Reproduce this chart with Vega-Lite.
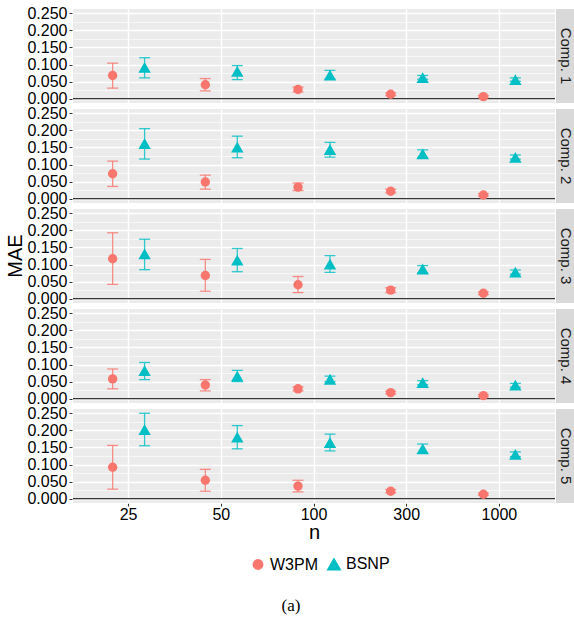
{
  "$schema": "https://vega.github.io/schema/vega-lite/v6.json",
  "padding": {"left": 6, "top": 5, "right": 0, "bottom": 5},
  "spacing": 0,
  "data": {"values": [
    {"comp": "Comp. 1", "method": "W3PM", "n": 25, "mae": 0.068, "lo": 0.031, "hi": 0.104},
    {"comp": "Comp. 1", "method": "W3PM", "n": 50, "mae": 0.041, "lo": 0.023, "hi": 0.059},
    {"comp": "Comp. 1", "method": "W3PM", "n": 100, "mae": 0.027, "lo": 0.020, "hi": 0.034},
    {"comp": "Comp. 1", "method": "W3PM", "n": 300, "mae": 0.013, "lo": 0.009, "hi": 0.017},
    {"comp": "Comp. 1", "method": "W3PM", "n": 1000, "mae": 0.006, "lo": 0.003, "hi": 0.009},
    {"comp": "Comp. 1", "method": "BSNP", "n": 25, "mae": 0.092, "lo": 0.061, "hi": 0.120},
    {"comp": "Comp. 1", "method": "BSNP", "n": 50, "mae": 0.080, "lo": 0.056, "hi": 0.097},
    {"comp": "Comp. 1", "method": "BSNP", "n": 100, "mae": 0.069, "lo": 0.058, "hi": 0.083},
    {"comp": "Comp. 1", "method": "BSNP", "n": 300, "mae": 0.062, "lo": 0.057, "hi": 0.068},
    {"comp": "Comp. 1", "method": "BSNP", "n": 1000, "mae": 0.056, "lo": 0.051, "hi": 0.061},
    {"comp": "Comp. 2", "method": "W3PM", "n": 25, "mae": 0.073, "lo": 0.036, "hi": 0.110},
    {"comp": "Comp. 2", "method": "W3PM", "n": 50, "mae": 0.049, "lo": 0.028, "hi": 0.069},
    {"comp": "Comp. 2", "method": "W3PM", "n": 100, "mae": 0.034, "lo": 0.024, "hi": 0.046},
    {"comp": "Comp. 2", "method": "W3PM", "n": 300, "mae": 0.022, "lo": 0.017, "hi": 0.028},
    {"comp": "Comp. 2", "method": "W3PM", "n": 1000, "mae": 0.011, "lo": 0.008, "hi": 0.015},
    {"comp": "Comp. 2", "method": "BSNP", "n": 25, "mae": 0.161, "lo": 0.116, "hi": 0.205},
    {"comp": "Comp. 2", "method": "BSNP", "n": 50, "mae": 0.151, "lo": 0.120, "hi": 0.183},
    {"comp": "Comp. 2", "method": "BSNP", "n": 100, "mae": 0.144, "lo": 0.122, "hi": 0.165},
    {"comp": "Comp. 2", "method": "BSNP", "n": 300, "mae": 0.131, "lo": 0.121, "hi": 0.143},
    {"comp": "Comp. 2", "method": "BSNP", "n": 1000, "mae": 0.121, "lo": 0.116, "hi": 0.128},
    {"comp": "Comp. 3", "method": "W3PM", "n": 25, "mae": 0.117, "lo": 0.042, "hi": 0.193},
    {"comp": "Comp. 3", "method": "W3PM", "n": 50, "mae": 0.068, "lo": 0.022, "hi": 0.115},
    {"comp": "Comp. 3", "method": "W3PM", "n": 100, "mae": 0.041, "lo": 0.018, "hi": 0.065},
    {"comp": "Comp. 3", "method": "W3PM", "n": 300, "mae": 0.025, "lo": 0.018, "hi": 0.032},
    {"comp": "Comp. 3", "method": "W3PM", "n": 1000, "mae": 0.016, "lo": 0.012, "hi": 0.020},
    {"comp": "Comp. 3", "method": "BSNP", "n": 25, "mae": 0.131, "lo": 0.085, "hi": 0.174},
    {"comp": "Comp. 3", "method": "BSNP", "n": 50, "mae": 0.113, "lo": 0.079, "hi": 0.147},
    {"comp": "Comp. 3", "method": "BSNP", "n": 100, "mae": 0.101, "lo": 0.077, "hi": 0.126},
    {"comp": "Comp. 3", "method": "BSNP", "n": 300, "mae": 0.087, "lo": 0.076, "hi": 0.097},
    {"comp": "Comp. 3", "method": "BSNP", "n": 1000, "mae": 0.078, "lo": 0.072, "hi": 0.084},
    {"comp": "Comp. 4", "method": "W3PM", "n": 25, "mae": 0.058, "lo": 0.029, "hi": 0.087},
    {"comp": "Comp. 4", "method": "W3PM", "n": 50, "mae": 0.040, "lo": 0.023, "hi": 0.056},
    {"comp": "Comp. 4", "method": "W3PM", "n": 100, "mae": 0.029, "lo": 0.023, "hi": 0.035},
    {"comp": "Comp. 4", "method": "W3PM", "n": 300, "mae": 0.018, "lo": 0.014, "hi": 0.022},
    {"comp": "Comp. 4", "method": "W3PM", "n": 1000, "mae": 0.009, "lo": 0.006, "hi": 0.012},
    {"comp": "Comp. 4", "method": "BSNP", "n": 25, "mae": 0.082, "lo": 0.056, "hi": 0.106},
    {"comp": "Comp. 4", "method": "BSNP", "n": 50, "mae": 0.066, "lo": 0.050, "hi": 0.083},
    {"comp": "Comp. 4", "method": "BSNP", "n": 100, "mae": 0.057, "lo": 0.050, "hi": 0.066},
    {"comp": "Comp. 4", "method": "BSNP", "n": 300, "mae": 0.047, "lo": 0.041, "hi": 0.053},
    {"comp": "Comp. 4", "method": "BSNP", "n": 1000, "mae": 0.040, "lo": 0.034, "hi": 0.045},
    {"comp": "Comp. 5", "method": "W3PM", "n": 25, "mae": 0.092, "lo": 0.028, "hi": 0.156},
    {"comp": "Comp. 5", "method": "W3PM", "n": 50, "mae": 0.054, "lo": 0.022, "hi": 0.086},
    {"comp": "Comp. 5", "method": "W3PM", "n": 100, "mae": 0.037, "lo": 0.020, "hi": 0.054},
    {"comp": "Comp. 5", "method": "W3PM", "n": 300, "mae": 0.022, "lo": 0.017, "hi": 0.027},
    {"comp": "Comp. 5", "method": "W3PM", "n": 1000, "mae": 0.013, "lo": 0.010, "hi": 0.016},
    {"comp": "Comp. 5", "method": "BSNP", "n": 25, "mae": 0.202, "lo": 0.155, "hi": 0.250},
    {"comp": "Comp. 5", "method": "BSNP", "n": 50, "mae": 0.180, "lo": 0.146, "hi": 0.214},
    {"comp": "Comp. 5", "method": "BSNP", "n": 100, "mae": 0.164, "lo": 0.140, "hi": 0.189},
    {"comp": "Comp. 5", "method": "BSNP", "n": 300, "mae": 0.146, "lo": 0.133, "hi": 0.160},
    {"comp": "Comp. 5", "method": "BSNP", "n": 1000, "mae": 0.130, "lo": 0.123, "hi": 0.137}
  ]},
  "title": {"text": "(a)", "orient": "bottom", "anchor": "middle", "font": "Liberation Serif", "fontSize": 17, "fontWeight": "normal", "color": "black", "offset": 25},
  "hconcat": [
    {
      "facet": {"row": {"field": "comp", "type": "nominal", "title": "MAE",
                "header": {"labels": false, "titleOrient": "left", "titleAngle": -90, "titleFontSize": 20, "titleFont": "Liberation Sans", "titleColor": "black", "titleFontWeight": "normal", "titlePadding": -30}}},
      "spacing": 6,
      "spec": {
        "width": 482,
        "height": 94,
        "resolve": {"axis": {"y": "independent"}},
        "encoding": {
          "x": {"field": "n", "type": "ordinal", "title": "n",
                "scale": {"type": "band", "paddingInner": 0, "paddingOuter": 0.1},
                "axis": {"bandPosition": 0.5, "labelAngle": 0, "grid": true, "gridWidth": 1.4, "labelPadding": 0, "titlePadding": 0}},
          "xOffset": {"field": "method", "type": "nominal", "sort": ["W3PM", "BSNP"],
                      "scale": {"paddingInner": 0, "paddingOuter": 0.45}}
        },
        "layer": [
          {
            "mark": {"type": "rule", "strokeWidth": 1.3, "opacity": 0.8},
            "encoding": {
              "y": {"field": "lo", "type": "quantitative", "title": null,
                    "scale": {"domain": [-0.0125, 0.2625], "nice": false, "zero": false},
                    "axis": {"orient": "left", "values": [0.025, 0.075, 0.125, 0.175, 0.225],
                             "labels": false, "ticks": false, "grid": true, "gridWidth": 0.6, "title": null}},
              "y2": {"field": "hi"},
              "color": {"field": "method", "type": "nominal"}
            }
          },
          {
            "transform": [{"filter": "datum.n == 25 && datum.method == 'W3PM'"}],
            "mark": {"type": "rule", "color": "black", "strokeWidth": 1},
            "encoding": {
              "x": null, "xOffset": null,
              "y": {"datum": 0, "type": "quantitative", "axis": null}
            }
          },
          {
            "mark": {"type": "tick", "orient": "horizontal", "size": 11, "thickness": 1.3, "opacity": 0.8},
            "encoding": {
              "y": {"field": "lo", "type": "quantitative", "axis": null},
              "color": {"field": "method", "type": "nominal"}
            }
          },
          {
            "mark": {"type": "tick", "orient": "horizontal", "size": 11, "thickness": 1.3, "opacity": 0.8},
            "encoding": {
              "y": {"field": "hi", "type": "quantitative", "axis": null},
              "color": {"field": "method", "type": "nominal"}
            }
          },
          {
            "mark": {"type": "point", "filled": true, "opacity": 1},
            "encoding": {
              "y": {"field": "mae", "type": "quantitative", "title": null,
                    "axis": {"orient": "left", "values": [0, 0.05, 0.1, 0.15, 0.2, 0.25], "format": ".3f",
                             "labelOverlap": false, "labelBound": false, "labelFlush": false,
                             "grid": true, "gridWidth": 1.3, "title": null}},
              "color": {"field": "method", "type": "nominal",
                        "scale": {"domain": ["W3PM", "BSNP"], "range": ["#F8766D", "#00BFC4"]},
                        "legend": {"title": null}},
              "shape": {"field": "method", "type": "nominal",
                        "scale": {"domain": ["W3PM", "BSNP"], "range": ["circle", "triangle-up"]},
                        "legend": {"title": null}},
              "size": {"field": "method", "type": "nominal",
                       "scale": {"domain": ["W3PM", "BSNP"], "range": [88, 155]},
                       "legend": {"title": null}}
            }
          }
        ]
      }
    },
    {
      "transform": [{"filter": "datum.n == 25 && datum.method == 'W3PM'"}],
      "facet": {"row": {"field": "comp", "type": "nominal", "header": null, "title": null}},
      "spacing": 6,
      "spec": {
        "width": 20,
        "height": 94,
        "view": {"fill": "#D9D9D9", "stroke": null},
        "mark": {"type": "text", "angle": 90, "fontSize": 15, "font": "Liberation Sans", "color": "#1A1A1A"},
        "encoding": {"text": {"field": "comp", "type": "nominal"}}
      }
    }
  ],
  "config": {
    "font": "Liberation Sans",
    "view": {"fill": "#EBEBEB", "stroke": null},
    "axis": {
      "labelFont": "Liberation Sans", "labelFontSize": 16, "labelColor": "black",
      "titleFont": "Liberation Sans", "titleFontSize": 20, "titleFontWeight": "normal", "titleColor": "black",
      "tickColor": "#333333", "tickSize": 3, "labelPadding": 2, "domain": false, "gridColor": "white"
    },
    "axisY": {"labelOverlap": false},
    "legend": {
      "orient": "none", "direction": "horizontal", "legendX": 177, "legendY": 547,
      "labelFont": "Liberation Sans", "labelFontSize": 16, "labelColor": "black",
      "columnPadding": 6, "symbolOpacity": 1
    }
  }
}
